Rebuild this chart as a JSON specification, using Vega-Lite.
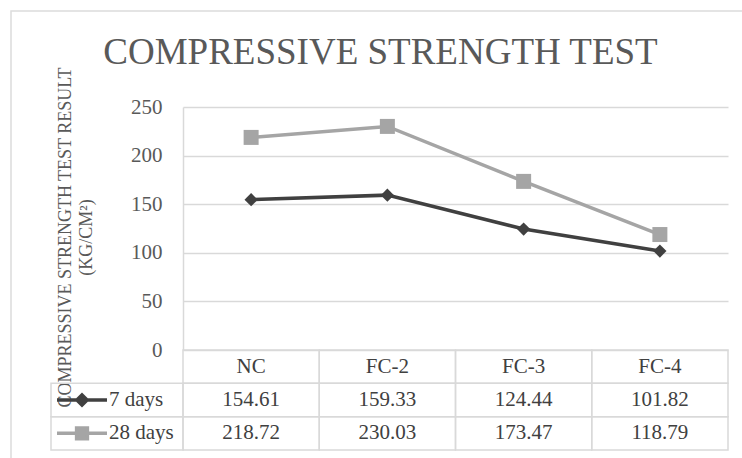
{
  "$schema": "https://vega.github.io/schema/vega-lite/v6.json",
  "width": 545,
  "height": 343,
  "autosize": "none",
  "padding": {"left": 183, "top": 107, "right": 14, "bottom": 8},
  "config": {
    "view": {"stroke": null},
    "font": "Liberation Serif"
  },
  "title": {
    "text": "COMPRESSIVE STRENGTH TEST",
    "font": "Liberation Serif",
    "fontSize": 37,
    "fontWeight": "normal",
    "color": "#595959",
    "anchor": "middle",
    "frame": "group",
    "baseline": "alphabetic",
    "dx": -75,
    "offset": -91
  },
  "datasets": {
    "strength": [
      {"series": "7 days", "cat": "NC", "value": 154.61},
      {"series": "7 days", "cat": "FC-2", "value": 159.33},
      {"series": "7 days", "cat": "FC-3", "value": 124.44},
      {"series": "7 days", "cat": "FC-4", "value": 101.82},
      {"series": "28 days", "cat": "NC", "value": 218.72},
      {"series": "28 days", "cat": "FC-2", "value": 230.03},
      {"series": "28 days", "cat": "FC-3", "value": 173.47},
      {"series": "28 days", "cat": "FC-4", "value": 118.79}
    ],
    "mixes": [
      {"cat": "NC"},
      {"cat": "FC-2"},
      {"cat": "FC-3"},
      {"cat": "FC-4"}
    ]
  },
  "resolve": {"scale": {"x": "independent", "y": "independent", "shape": "independent", "size": "independent"}},
  "layer": [
    {
      "data": {"values": [{}]},
      "mark": {"type": "rect", "fill": "transparent", "stroke": "#dcdcdc", "strokeWidth": 1.5},
      "encoding": {
        "x": {
          "datum": "chart",
          "type": "nominal",
          "scale": {"type": "band", "domain": ["chart"], "range": [-172, 600], "paddingInner": 0, "paddingOuter": 0},
          "axis": null
        },
        "y": {
          "datum": "chart",
          "type": "nominal",
          "scale": {"type": "band", "domain": ["chart"], "range": [-96, 400], "paddingInner": 0, "paddingOuter": 0},
          "axis": null
        }
      }
    },
    {
      "data": {"name": "strength"},
      "encoding": {
        "x": {
          "field": "cat",
          "type": "nominal",
          "scale": {"type": "point", "domain": ["NC", "FC-2", "FC-3", "FC-4"], "range": [0, 545], "padding": 0.5},
          "axis": null
        },
        "y": {
          "field": "value",
          "type": "quantitative",
          "scale": {"domain": [0, 250], "range": [243, 0], "nice": false, "zero": false},
          "axis": {
            "values": [0, 50, 100, 150, 200, 250],
            "grid": true,
            "gridColor": "#d9d9d9",
            "gridWidth": 1.5,
            "domain": true,
            "domainColor": "#d9d9d9",
            "domainWidth": 1.5,
            "ticks": false,
            "tickSize": 0,
            "labelPadding": 21,
            "labelFont": "Liberation Serif",
            "labelFontSize": 21,
            "labelColor": "#595959",
            "title": ["COMPRESSIVE STRENGTH TEST RESULT", "(KG/CM²)"],
            "titleFont": "Liberation Serif",
            "titleFontSize": 18,
            "titleFontWeight": "normal",
            "titleColor": "#595959",
            "titleLineHeight": 21,
            "titlePadding": 35,
            "titleY": 130
          }
        },
        "color": {
          "field": "series",
          "type": "nominal",
          "scale": {"domain": ["7 days", "28 days"], "range": ["#404040", "#a5a5a5"]},
          "legend": null
        },
        "order": {"value": null}
      },
      "layer": [
        {"mark": {"type": "line", "strokeWidth": 3.5}},
        {
          "mark": {"type": "point", "filled": true, "opacity": 1},
          "encoding": {
            "shape": {
              "field": "series",
              "type": "nominal",
              "scale": {"domain": ["7 days", "28 days"], "range": ["diamond", "square"]},
              "legend": null
            },
            "size": {
              "field": "series",
              "type": "ordinal",
              "scale": {"domain": ["7 days", "28 days"], "range": [175, 225]},
              "legend": null
            }
          }
        }
      ]
    },
    {
      "data": {"name": "strength"},
      "encoding": {
        "x": {
          "field": "cat",
          "type": "nominal",
          "scale": {"type": "band", "domain": ["NC", "FC-2", "FC-3", "FC-4"], "range": [0, 545], "paddingInner": 0, "paddingOuter": 0},
          "axis": null
        },
        "y": {
          "field": "series",
          "type": "nominal",
          "scale": {"type": "band", "domain": ["header", "7 days", "28 days"], "range": [243, 343], "paddingInner": 0, "paddingOuter": 0},
          "axis": null
        }
      },
      "layer": [
        {"mark": {"type": "rect", "fill": "transparent", "stroke": "#d9d9d9", "strokeWidth": 1.5}},
        {
          "mark": {"type": "text", "fontSize": 21, "color": "#404040", "baseline": "middle"},
          "encoding": {"text": {"field": "value", "type": "quantitative", "format": ".2f"}}
        }
      ]
    },
    {
      "data": {"name": "mixes"},
      "encoding": {
        "x": {
          "field": "cat",
          "type": "nominal",
          "scale": {"type": "band", "domain": ["NC", "FC-2", "FC-3", "FC-4"], "range": [0, 545], "paddingInner": 0, "paddingOuter": 0},
          "axis": null
        },
        "y": {
          "datum": "header",
          "type": "nominal",
          "scale": {"type": "band", "domain": ["header", "7 days", "28 days"], "range": [243, 343], "paddingInner": 0, "paddingOuter": 0},
          "axis": null
        }
      },
      "layer": [
        {"mark": {"type": "rect", "fill": "transparent", "stroke": "#d9d9d9", "strokeWidth": 1.5}},
        {
          "mark": {"type": "text", "fontSize": 21, "color": "#404040", "baseline": "middle"},
          "encoding": {"text": {"field": "cat", "type": "nominal"}}
        }
      ]
    },
    {
      "data": {"name": "strength"},
      "transform": [{"filter": "datum.cat === 'NC'"}],
      "encoding": {
        "x": {
          "datum": "legend",
          "type": "nominal",
          "scale": {"type": "band", "domain": ["legend"], "range": [-132, 0], "paddingInner": 0, "paddingOuter": 0},
          "axis": null
        },
        "y": {
          "field": "series",
          "type": "nominal",
          "scale": {"type": "band", "domain": ["header", "7 days", "28 days"], "range": [243, 343], "paddingInner": 0, "paddingOuter": 0},
          "axis": null
        }
      },
      "layer": [
        {"mark": {"type": "rect", "fill": "transparent", "stroke": "#d9d9d9", "strokeWidth": 1.5}},
        {
          "mark": {"type": "point", "filled": true, "opacity": 1, "size": 14400, "strokeWidth": 3.5},
          "encoding": {
            "shape": {
              "field": "series",
              "type": "nominal",
              "scale": {
                "domain": ["7 days", "28 days"],
                "range": [
                  "M-1,0L-0.1667,0M-0.5833,-0.085L-0.4983,0L-0.5833,0.085L-0.6683,0Z",
                  "M-1,0L-0.1667,0M-0.6733,-0.09L-0.4933,-0.09L-0.4933,0.09L-0.6733,0.09Z"
                ]
              },
              "legend": null
            },
            "color": {
              "field": "series",
              "type": "nominal",
              "scale": {"domain": ["7 days", "28 days"], "range": ["#404040", "#a5a5a5"]},
              "legend": null
            },
            "stroke": {
              "field": "series",
              "type": "nominal",
              "scale": {"domain": ["7 days", "28 days"], "range": ["#404040", "#a5a5a5"]},
              "legend": null
            }
          }
        },
        {
          "mark": {"type": "text", "align": "left", "baseline": "middle", "dx": -8, "fontSize": 21, "color": "#404040"},
          "encoding": {"text": {"field": "series", "type": "nominal"}}
        }
      ]
    }
  ]
}
